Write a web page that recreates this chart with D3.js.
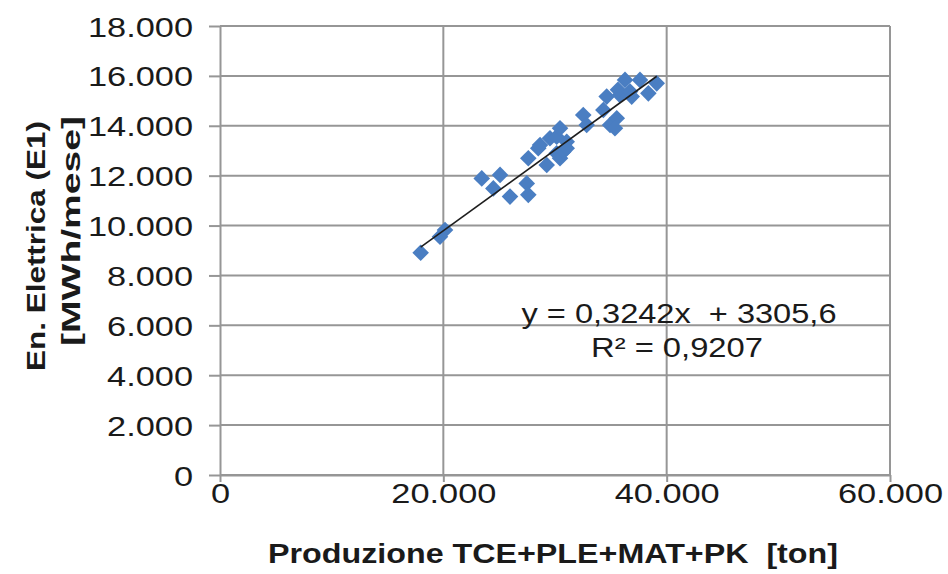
<!DOCTYPE html>
<html lang="it">
<head>
  <meta charset="UTF-8">
  <title>En. Elettrica vs Produzione</title>
  <style>
    body { margin: 0; background: #fff; }
    svg { display: block; }
    text { font-family: "Liberation Sans", Arial, sans-serif; fill: #1a1a1a; white-space: pre; }
  </style>
</head>
<body>
  <script src="https://d3js.org/d3.v7.min.js"></script>
  <script>
    'use strict';

    // production [ton] per month
    const prodX = [17970, 19700, 20150, 23440, 25080, 24480, 25970, 27470, 27610, 27610,
      28500, 28660, 29260, 30150, 30450, 29550, 30150, 30450, 30740, 31050,
      31050, 32530, 32840, 34330, 34930, 35530, 35370, 34630, 35820, 35640,
      36270, 37610, 36720, 36870, 38360, 39110];
    // electric energy [MWh/month]
    const energyY = [8910, 9550, 9820, 11890, 12030, 11490, 11160, 11690, 11230, 12700,
      13100, 13230, 12430, 12900, 12700, 13500, 13560, 13900, 12960, 13360,
      13100, 14430, 14030, 14630, 14030, 14300, 13900, 15170, 15230, 15440,
      15840, 15840, 15370, 15170, 15300, 15700];

    const xTicks = [0, 20000, 40000, 60000];
    const yTicks = [0, 2000, 4000, 6000, 8000, 10000, 12000, 14000, 16000, 18000];

    const slope = 0.3242;
    const intercept = 3305.6;
    const eqText = 'y = 0,3242x  + 3305,6';
    const r2Text = 'R² = 0,9207';

    const width = 948;
    const height = 574;
    const plotLeft = 220, plotRight = 890, plotTop = 26, plotBottom = 475;
    const stretch = 1.25;
    const gridColor = '#969696';

    const it = d3.formatLocale({decimal: ',', thousands: '.', grouping: [3], currency: ['', '€']});
    const fmt = it.format(',d');

    const x = d3.scaleLinear().domain([0, 60000]).range([plotLeft, plotRight]);
    const y = d3.scaleLinear().domain([0, 18000]).range([plotBottom, plotTop]);

    const svg = d3.select('body').append('svg')
      .attr('width', width)
      .attr('height', height);

    // grid
    svg.append('g').selectAll('line')
      .data(yTicks).enter().append('line')
      .attr('x1', plotLeft).attr('x2', plotRight)
      .attr('y1', d => y(d)).attr('y2', d => y(d))
      .attr('stroke', gridColor).attr('stroke-width', 2);

    svg.append('g').selectAll('line')
      .data(xTicks.slice(1)).enter().append('line')
      .attr('x1', d => x(d)).attr('x2', d => x(d))
      .attr('y1', plotTop).attr('y2', plotBottom)
      .attr('stroke', gridColor).attr('stroke-width', 2);

    // axes
    const yAxis = svg.append('g')
      .attr('transform', 'translate(' + plotLeft + ',0)')
      .call(d3.axisLeft(y).tickValues(yTicks).tickSize(11).tickSizeOuter(0).tickFormat(fmt));
    yAxis.select('.domain').attr('stroke', gridColor).attr('stroke-width', 2);
    yAxis.selectAll('.tick line').attr('stroke', gridColor).attr('stroke-width', 2);
    yAxis.selectAll('.tick text')
      .attr('x', 0).attr('dy', null).attr('y', 10)
      .attr('text-anchor', 'end')
      .attr('font-size', 27.5)
      .attr('transform', 'translate(-27,0) scale(' + stretch + ',1)');
    yAxis.attr('font-family', null).attr('font-size', null);

    const xAxis = svg.append('g')
      .attr('transform', 'translate(0,' + plotBottom + ')')
      .call(d3.axisBottom(x).tickValues(xTicks).tickSize(7).tickSizeOuter(0).tickFormat(fmt));
    xAxis.select('.domain').attr('stroke', gridColor).attr('stroke-width', 2);
    xAxis.selectAll('.tick line').attr('stroke', gridColor).attr('stroke-width', 2);
    xAxis.selectAll('.tick text')
      .attr('y', 28).attr('dy', null)
      .attr('font-size', 27.5)
      .attr('transform', 'scale(' + stretch + ',1)');
    xAxis.attr('font-family', null).attr('font-size', null);

    // markers (diamonds)
    const diamond = 'M0,-8.3L8.3,0L0,8.3L-8.3,0Z';
    svg.append('g').selectAll('path')
      .data(prodX.map((v, i) => [v, energyY[i]])).enter().append('path')
      .attr('d', diamond)
      .attr('transform', d => 'translate(' + x(d[0]) + ',' + y(d[1]) + ')')
      .attr('fill', '#4a7ec2');

    // linear trend line, drawn on top like Excel
    const xr = d3.extent(prodX);
    svg.append('line')
      .attr('x1', x(xr[0])).attr('y1', y(slope * xr[0] + intercept))
      .attr('x2', x(xr[1])).attr('y2', y(slope * xr[1] + intercept))
      .attr('stroke', '#1e1e1e').attr('stroke-width', 1.6);

    // equation
    svg.append('text')
      .attr('x', 679).attr('y', 323)
      .attr('text-anchor', 'middle')
      .attr('font-size', 27)
      .attr('textLength', 315).attr('lengthAdjust', 'spacingAndGlyphs')
      .text(eqText);
    svg.append('text')
      .attr('x', 677).attr('y', 357)
      .attr('text-anchor', 'middle')
      .attr('font-size', 27)
      .attr('textLength', 172).attr('lengthAdjust', 'spacingAndGlyphs')
      .text(r2Text);

    // axis titles
    svg.append('text')
      .attr('x', 553).attr('y', 563)
      .attr('text-anchor', 'middle')
      .attr('font-size', 27).attr('font-weight', 'bold')
      .attr('textLength', 570).attr('lengthAdjust', 'spacingAndGlyphs')
      .text('Produzione TCE+PLE+MAT+PK  [ton]');

    svg.append('text')
      .attr('transform', 'translate(45,246) rotate(-90)')
      .attr('text-anchor', 'middle')
      .attr('font-size', 26).attr('font-weight', 'bold')
      .attr('textLength', 250).attr('lengthAdjust', 'spacingAndGlyphs')
      .text('En. Elettrica (E1)');
    svg.append('text')
      .attr('transform', 'translate(80,231) rotate(-90)')
      .attr('text-anchor', 'middle')
      .attr('font-size', 26).attr('font-weight', 'bold')
      .attr('textLength', 230).attr('lengthAdjust', 'spacingAndGlyphs')
      .text('[MWh/mese]');
  </script>
</body>
</html>
